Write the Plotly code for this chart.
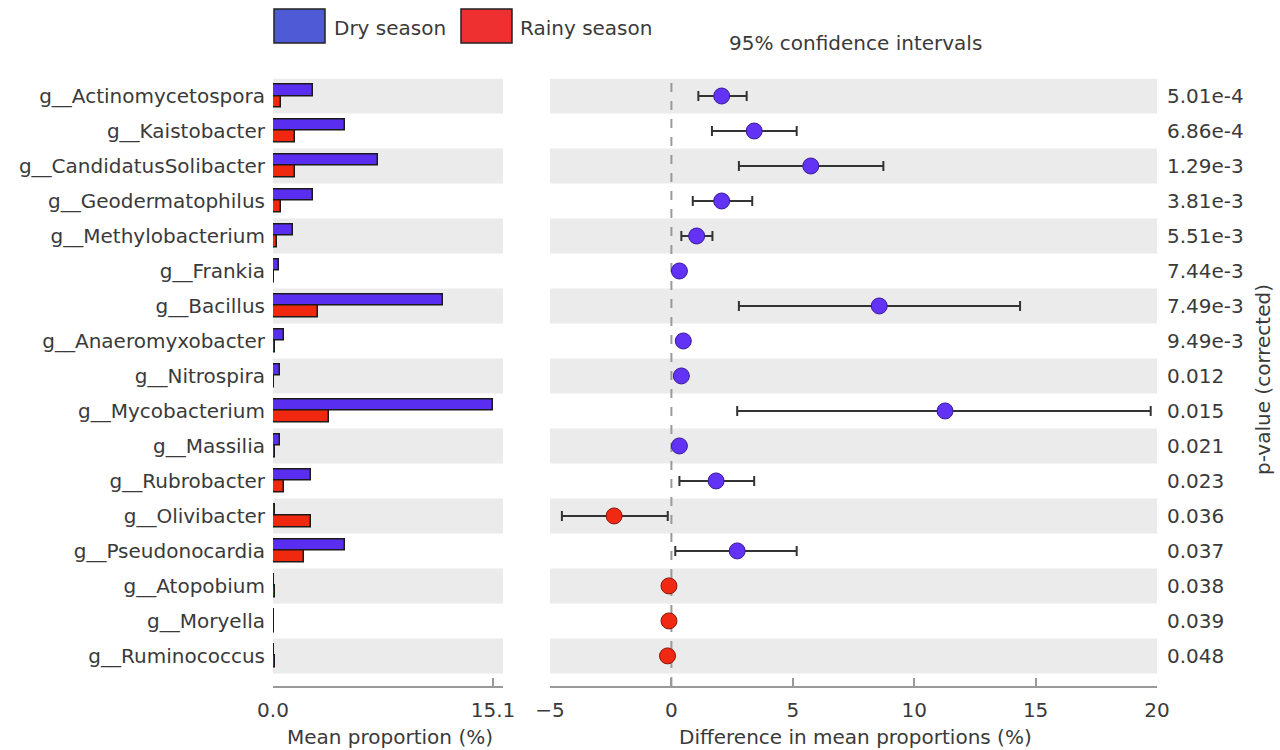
import plotly.graph_objects as go

# ---------------- data ----------------
genera = ["g__Actinomycetospora", "g__Kaistobacter", "g__CandidatusSolibacter",
          "g__Geodermatophilus", "g__Methylobacterium", "g__Frankia", "g__Bacillus",
          "g__Anaeromyxobacter", "g__Nitrospira", "g__Mycobacterium", "g__Massilia",
          "g__Rubrobacter", "g__Olivibacter", "g__Pseudonocardia", "g__Atopobium",
          "g__Moryella", "g__Ruminococcus"]
dry_mean = [2.72, 4.96, 7.18, 2.72, 1.39, 0.43, 11.69, 0.73, 0.45, 15.1, 0.45,
            2.58, 0.12, 4.96, 0.10, 0.08, 0.10]
rainy_mean = [0.57, 1.49, 1.49, 0.57, 0.30, 0.08, 3.09, 0.12, 0.08, 3.84, 0.12,
              0.73, 2.58, 2.14, 0.12, 0.10, 0.12]
diff = [2.07, 3.41, 5.74, 2.07, 1.04, 0.33, 8.56, 0.49, 0.41, 11.27, 0.33,
        1.84, -2.36, 2.71, -0.10, -0.10, -0.16]
ci_low = [1.11, 1.67, 2.78, 0.88, 0.41, 0.25, 2.78, 0.40, 0.33, 2.71, 0.25,
          0.33, -4.51, 0.16, -0.14, -0.13, -0.20]
ci_high = [3.10, 5.16, 8.73, 3.33, 1.69, 0.41, 14.36, 0.58, 0.49, 19.74, 0.41,
           3.41, -0.15, 5.16, -0.06, -0.07, -0.12]
pvalues = ["5.01e-4", "6.86e-4", "1.29e-3", "3.81e-3", "5.51e-3", "7.44e-3",
           "7.49e-3", "9.49e-3", "0.012", "0.015", "0.021", "0.023", "0.036",
           "0.037", "0.038", "0.039", "0.048"]
left_ticks = [0, 15.1]
left_ticktext = ["0.0", "15.1"]
right_ticks = [-5, 0, 5, 10, 15, 20]
right_ticktext = ["\u22125", "0", "5", "10", "15", "20"]

# ---------------- styles ----------------
W, H = 1280, 750
FONT = "DejaVu Sans"
TXT = "#3a3a3a"
DRY_BAR = "#5a2ef0"
RAINY_BAR = "#f0280f"
DRY_DOT = "#6233f5"
RAINY_DOT = "#f02a12"
DRY_LEG = "#4f5bd6"
RAINY_LEG = "#ef3030"
BAND = "#ebebeb"
AX = "#999999"

idx = list(range(len(genera)))

fig = go.Figure()

fig.add_trace(go.Bar(
    x=dry_mean, y=idx, orientation="h", width=0.32, offset=-0.32,
    marker=dict(color=DRY_BAR, line=dict(color="#1a1a1a", width=1.5)),
    xaxis="x", yaxis="y", name="Dry season", showlegend=False))
fig.add_trace(go.Bar(
    x=rainy_mean, y=idx, orientation="h", width=0.32, offset=0.0,
    marker=dict(color=RAINY_BAR, line=dict(color="#1a1a1a", width=1.5)),
    xaxis="x", yaxis="y", name="Rainy season", showlegend=False))

err_plus = [h - d for h, d in zip(ci_high, diff)]
err_minus = [d - l for d, l in zip(diff, ci_low)]
dot_colors = [DRY_DOT if d > 0 else RAINY_DOT for d in diff]
dot_lines = ["#3a1a9a" if d > 0 else "#8a1508" for d in diff]

fig.add_trace(go.Scatter(
    x=diff, y=idx, mode="markers",
    error_x=dict(type="data", symmetric=False, array=err_plus, arrayminus=err_minus,
                 color="#333333", thickness=2, width=5),
    marker=dict(size=16, color=dot_colors, line=dict(color=dot_lines, width=1)),
    xaxis="x2", yaxis="y2", showlegend=False))

ydom = [1 - 686 / H, 1 - 78.5 / H]
yrange = [16.86, -0.5]

shapes = []
for i in idx:
    if i % 2 == 0:
        for xr, yr in (("x domain", "y"), ("x2 domain", "y2")):
            shapes.append(dict(type="rect", xref=xr, yref=yr, x0=0, x1=1,
                               y0=i - 0.5, y1=i + 0.5, fillcolor=BAND,
                               line=dict(width=0), layer="below"))
shapes.append(dict(type="line", xref="x2", yref="y2 domain", x0=0, x1=0, y0=0, y1=1,
                   line=dict(color="#9a9a9a", width=2, dash="dash"), layer="below"))
# legend boxes
shapes.append(dict(type="rect", xref="paper", yref="paper",
                   x0=274 / W, x1=325 / W, y0=1 - 43 / H, y1=1 - 9 / H,
                   fillcolor=DRY_LEG, line=dict(color="#222222", width=1.5)))
shapes.append(dict(type="rect", xref="paper", yref="paper",
                   x0=461 / W, x1=512 / W, y0=1 - 43 / H, y1=1 - 9 / H,
                   fillcolor=RAINY_LEG, line=dict(color="#222222", width=1.5)))

annotations = [
    dict(text="Dry season", x=332 / W, y=1 - 28 / H, xref="paper", yref="paper",
         xanchor="left", yanchor="middle", showarrow=False),
    dict(text="Rainy season", x=518 / W, y=1 - 28 / H, xref="paper", yref="paper",
         xanchor="left", yanchor="middle", showarrow=False),
    dict(text="95% confidence intervals", x=855 / W, y=1 - 43 / H, xref="paper",
         yref="paper", xanchor="center", yanchor="middle", showarrow=False),
    dict(text="p-value (corrected)", x=1263 / W, y=1 - 380 / H, xref="paper",
         yref="paper", xanchor="center", yanchor="middle", textangle=-90,
         showarrow=False),
    dict(text="Mean proportion (%)", x=390 / W, y=1 - 737 / H, xref="paper",
         yref="paper", xanchor="center", yanchor="middle", showarrow=False),
    dict(text="Difference in mean proportions (%)", x=855 / W, y=1 - 737 / H,
         xref="paper", yref="paper", xanchor="center", yanchor="middle",
         showarrow=False),
]

fig.update_layout(
    width=W, height=H, autosize=False,
    margin=dict(l=0, r=0, t=0, b=0, pad=0),
    paper_bgcolor="white", plot_bgcolor="white",
    font=dict(family=FONT, size=20, color=TXT),
    barmode="overlay", bargap=0,
    showlegend=False,
    xaxis=dict(domain=[273 / W, 503 / W], range=[0, 15.79], anchor="y",
               tickvals=left_ticks, ticktext=left_ticktext,
               showline=True, linecolor=AX, linewidth=2, mirror=False,
               ticks="inside", ticklen=8, tickcolor=AX, tickwidth=1.5,
               ticklabelstandoff=5,
               showgrid=False, zeroline=False, automargin=False,
               fixedrange=True),
    yaxis=dict(domain=ydom, range=yrange, anchor="x",
               tickvals=idx, ticktext=genera,
               ticks="outside", ticklen=3, tickcolor="rgba(0,0,0,0)",
               showline=False, showgrid=False, zeroline=False, automargin=False),
    xaxis2=dict(domain=[550 / W, 1157 / W], range=[-5, 20], anchor="y2",
                tickvals=right_ticks, ticktext=right_ticktext,
                showline=True, linecolor=AX, linewidth=2,
                ticks="inside", ticklen=8, tickcolor=AX, tickwidth=1.5,
                ticklabelstandoff=5,
                showgrid=False, zeroline=False, automargin=False),
    yaxis2=dict(domain=ydom, range=yrange, anchor="x2", side="right",
                tickvals=idx, ticktext=pvalues,
                ticks="outside", ticklen=5, tickcolor="rgba(0,0,0,0)",
                showline=False, showgrid=False, zeroline=False, automargin=False),
    shapes=shapes,
    annotations=annotations,
)

fig.write_html("out.html",
               config={"displayModeBar": False},
               post_script="document.body.style.margin='0';"
                           "document.body.style.padding='0';")
